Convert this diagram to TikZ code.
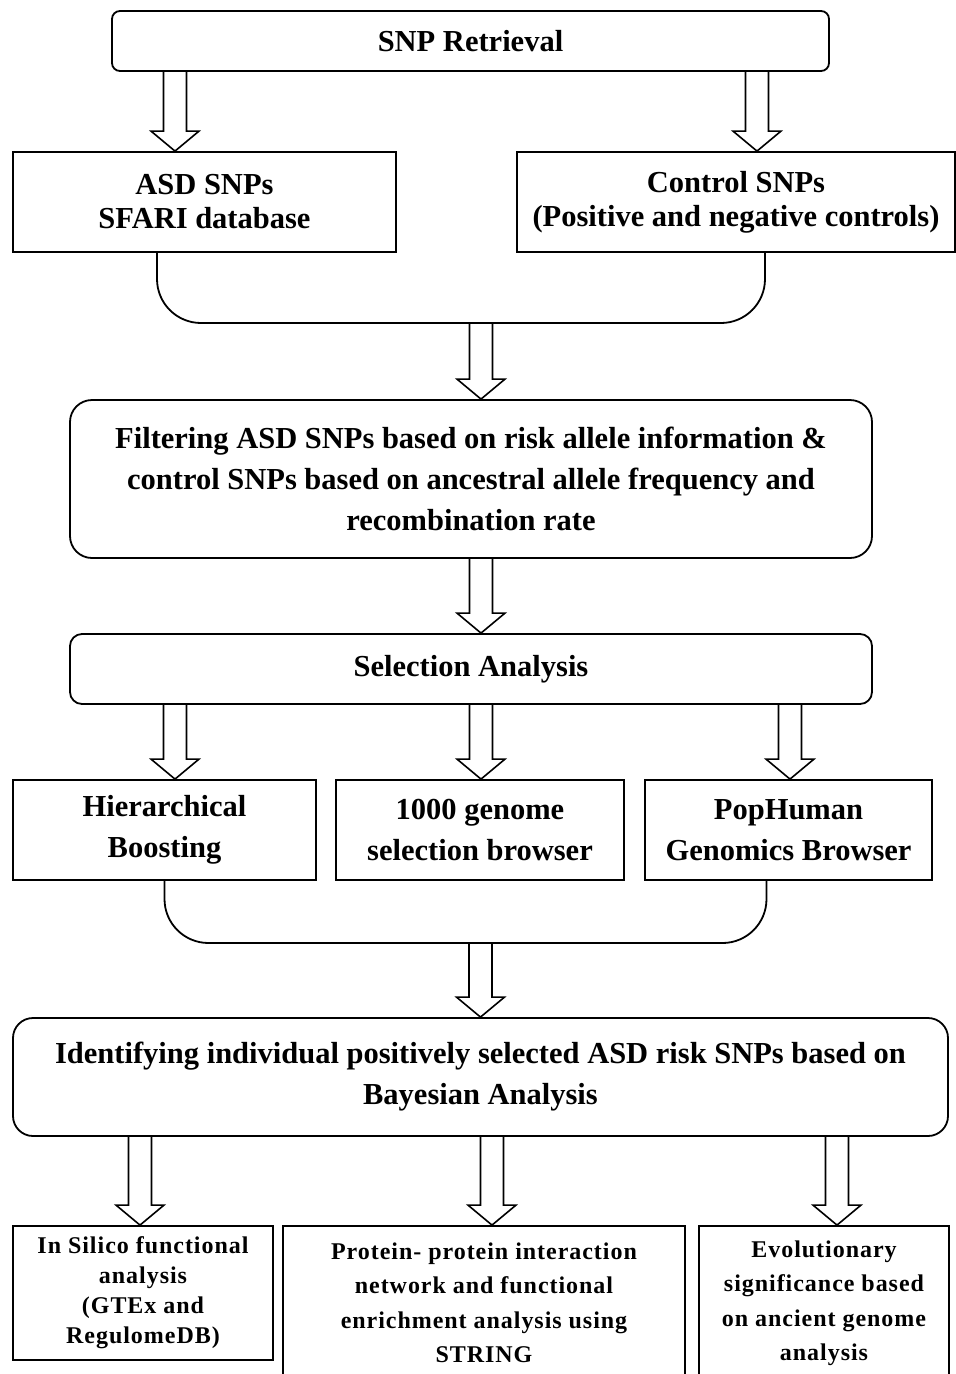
\documentclass[tikz,border=0pt]{standalone}
\usepackage{fontspec}
\setmainfont{Liberation Serif}
\newfontfamily\smallfont{Liberation Serif}[LetterSpace=4]
\usetikzlibrary{positioning,calc}

\begin{document}
\begin{tikzpicture}[x=1pt,y=-1pt,line width=1.8pt,
    font=\bfseries\fontsize{30.5}{41}\selectfont,
    flowbox/.style={draw, align=center, inner sep=0pt},
    roundbox/.style={flowbox, rounded corners=#1},
    tighttext/.style={font=\bfseries\fontsize{30.5}{34}\selectfont},
    smalltext/.style={font=\smallfont\bfseries\fontsize{24}{#1}\selectfont},
    hollow/.style={line width=1.6pt, to path={let \p1=(\tikztostart), \p2=(\tikztotarget) in
      (\x2-11.5pt,\y1) -- (\x2-11.5pt,\y2+20pt) -- (\x2-24pt,\y2+20pt) -- (\x2,\y2)
      -- (\x2+24pt,\y2+20pt) -- (\x2+11.5pt,\y2+20pt) -- (\x2+11.5pt,\y1)}},
    bracket/.style={rounded corners=44pt}]

  \useasboundingbox (0,0) rectangle (956,1374);

  % retrieval
  \node[roundbox=8pt, minimum width=717pt, minimum height=60pt] (snp) at (470.5,41) {SNP Retrieval};
  \node[flowbox, tighttext, minimum width=383pt, minimum height=100pt] (asd) at (204.5,202) {ASD SNPs\\SFARI database};
  \node[flowbox, tighttext, minimum width=438pt, minimum height=100pt] (ctrl) at (736,202) {Control SNPs\\(Positive and negative controls)};

  \draw[hollow] (snp.south) to ([xshift=-29.5pt]asd.north);
  \draw[hollow] (snp.south) to ([xshift=21pt]ctrl.north);

  \coordinate (join1) at (481,323);
  \draw[bracket] ([xshift=-47.5pt]asd.south) |- (join1) -| ([xshift=29pt]ctrl.south);

  % filtering and selection
  \node[roundbox=22pt, minimum width=802pt, minimum height=158pt] (filter) at (471,479)
    {Filtering ASD SNPs based on risk allele information \&\\control SNPs based on ancestral allele frequency and\\recombination rate};
  \node[roundbox=12pt, minimum width=802pt, minimum height=70pt] (select) at (471,669) {Selection Analysis};

  \draw[hollow] (join1) to ([xshift=10pt]filter.north);
  \draw[hollow] (filter.south) to ([xshift=10pt]select.north);

  \node[flowbox, minimum width=303pt, minimum height=100pt] (hb) at (164.5,830) {Hierarchical\\Boosting};
  \node[flowbox, minimum width=288pt, minimum height=100pt] (kg) at (480,830) {1000 genome\\selection browser};
  \node[flowbox, minimum width=287pt, minimum height=100pt] (pop) at (788.5,830) {PopHuman\\Genomics Browser};

  \draw[hollow] (select.south) to ([xshift=10.5pt]hb.north);
  \draw[hollow] (select.south) to ([xshift=1pt]kg.north);
  \draw[hollow] (select.south) to ([xshift=1.5pt]pop.north);

  \coordinate (join2) at (481,943);
  \draw[bracket] (hb.south) |- (join2) -| ([xshift=-22pt]pop.south);

  % bayesian step
  \node[roundbox=20pt, minimum width=935pt, minimum height=118pt] (ident) at (480.5,1077)
    {Identifying individual positively selected ASD risk SNPs based on\\Bayesian Analysis};
  \draw[hollow] (join2) to (ident.north);

  \node[flowbox, smalltext=30, minimum width=260pt, minimum height=134pt] (insilico) at (143,1293)
    {In Silico functional\\analysis\\(GTEx and\\RegulomeDB)};
  \node[flowbox, smalltext=34.5, minimum width=402pt, minimum height=154pt] (protein) at (484,1303)
    {Protein- protein interaction\\network and functional\\enrichment analysis using\\STRING};
  \node[flowbox, smalltext=34.5, minimum width=250pt, minimum height=154pt] (evo) at (824,1303)
    {Evolutionary\\significance based\\on ancient genome\\analysis};

  \draw[hollow] (ident.south) to ([xshift=-3pt]insilico.north);
  \draw[hollow] (ident.south) to ([xshift=8pt]protein.north);
  \draw[hollow] (ident.south) to ([xshift=13pt]evo.north);
\end{tikzpicture}
\end{document}
